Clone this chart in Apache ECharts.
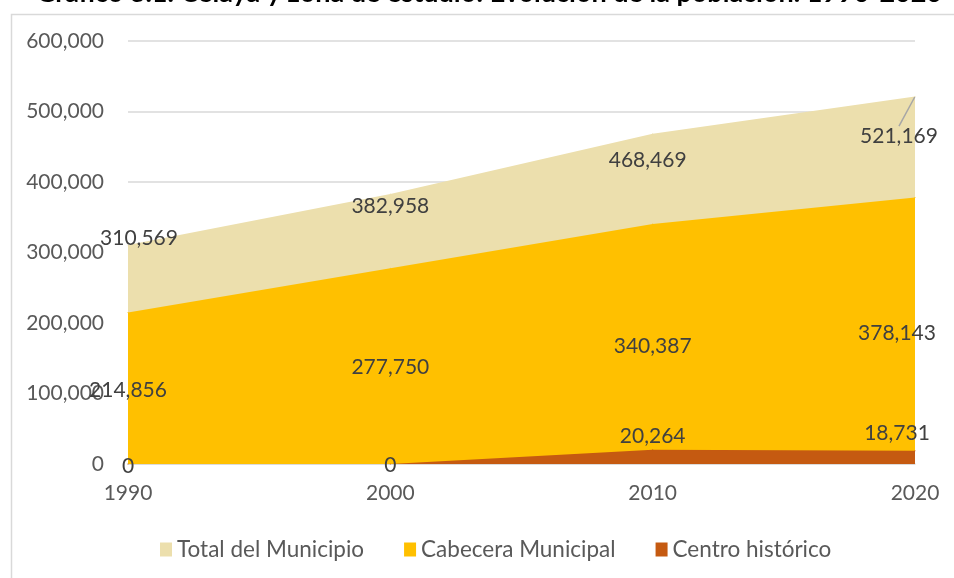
<!DOCTYPE html>
<html>
<head>
<meta charset="utf-8">
<script src="https://cdn.jsdelivr.net/npm/echarts@6/dist/echarts.min.js"></script>
<style>html,body{margin:0;padding:0;background:#fff}#c{width:954px;height:578px}</style>
</head>
<body>
<div id="c"></div>
<script>
var categories = ['1990', '2000', '2010', '2020'];
var totalMunicipio = [310569, 382958, 468469, 521169];
var cabeceraMunicipal = [214856, 277750, 340387, 378143];
var centroHistorico = [0, 0, 20264, 18731];
var seriesNames = ['Total del Municipio', 'Cabecera Municipal', 'Centro histórico'];
var titleText = 'Gráfico 3.1. Celaya y zona de estudio: Evolución de la población. 1990-2020';

// label displacement (styling, in px) for each series / point
var labelShift = [
  [[11, -7], [0, 12], [-5, 27], [-16, 40]],
  [[0, 78], [0, 99], [0, 122], [-18, 136]],
  [[0, 2], [0, 1], [0, -13], [-18, -18]]
];
// which labels get a leader line
var leader = [[false, false, false, true], [false, false, false, false], [false, false, false, false]];
var colors = ['#ECDFAD', '#FFC000', '#C55A11'];
var FONT = 'Lato, "Open Sans", sans-serif';

function fmt(v) { return v.toLocaleString('en-US'); }

function mkSeries(idx, values) {
  return {
    name: seriesNames[idx],
    type: 'line',
    data: values.map(function (v, i) {
      return { value: v, labelLine: { show: leader[idx][i] } };
    }),
    symbol: 'circle',
    symbolSize: 1,
    showSymbol: true,
    lineStyle: { width: 0, color: colors[idx] },
    itemStyle: { color: colors[idx] },
    areaStyle: { color: colors[idx], opacity: 1 },
    label: {
      show: true,
      position: 'inside',
      formatter: function (p) { return fmt(p.value); },
      fontFamily: FONT, fontSize: 21, color: '#404040'
    },
    labelLayout: function (p) {
      var s = labelShift[idx][p.dataIndex];
      return { dx: s[0], dy: s[1] };
    },
    labelLine: {
      show: false,
      lineStyle: { color: '#a6a6a6', width: 1.5 }
    },
    emphasis: { disabled: true },
    z: 2 + idx
  };
}

var chart = echarts.init(document.getElementById('c'));
chart.setOption({
  animation: false,
  color: colors,
  title: {
    text: titleText,
    left: 489, textAlign: 'center',
    top: -20, padding: 0,
    textStyle: { fontFamily: FONT, fontSize: 27, fontWeight: 'bold', color: '#000' }
  },
  graphic: [{
    type: 'rect', left: 9, top: 12, z: -10,
    shape: { x: 0, y: 0, width: 1000, height: 600 },
    style: { fill: 'none', stroke: '#d9d9d9', lineWidth: 1.5 }
  }],
  grid: { left: 128, right: 39, top: 41, bottom: 114, containLabel: false },
  legend: {
    data: seriesNames,
    top: 533, left: 155,
    itemWidth: 12, itemHeight: 14, itemGap: 40,
    icon: 'rect',
    textStyle: { fontFamily: FONT, fontSize: 22.5, color: '#595959' }
  },
  xAxis: {
    type: 'category',
    data: categories,
    boundaryGap: false,
    axisLine: { lineStyle: { color: '#d9d9d9', width: 1.5 } },
    axisTick: { show: false },
    axisLabel: { fontFamily: FONT, fontSize: 21, color: '#595959', margin: 19 },
    splitLine: { show: false }
  },
  yAxis: {
    type: 'value',
    min: 0, max: 600000, interval: 100000,
    axisLine: { show: false },
    axisTick: { show: false },
    axisLabel: {
      fontFamily: FONT, fontSize: 21, color: '#595959', margin: 24,
      formatter: function (v) { return fmt(v); }
    },
    splitLine: { lineStyle: { color: '#d9d9d9', width: 1.5 } }
  },
  series: [
    mkSeries(0, totalMunicipio),
    mkSeries(1, cabeceraMunicipal),
    mkSeries(2, centroHistorico)
  ]
});
</script>
</body>
</html>
